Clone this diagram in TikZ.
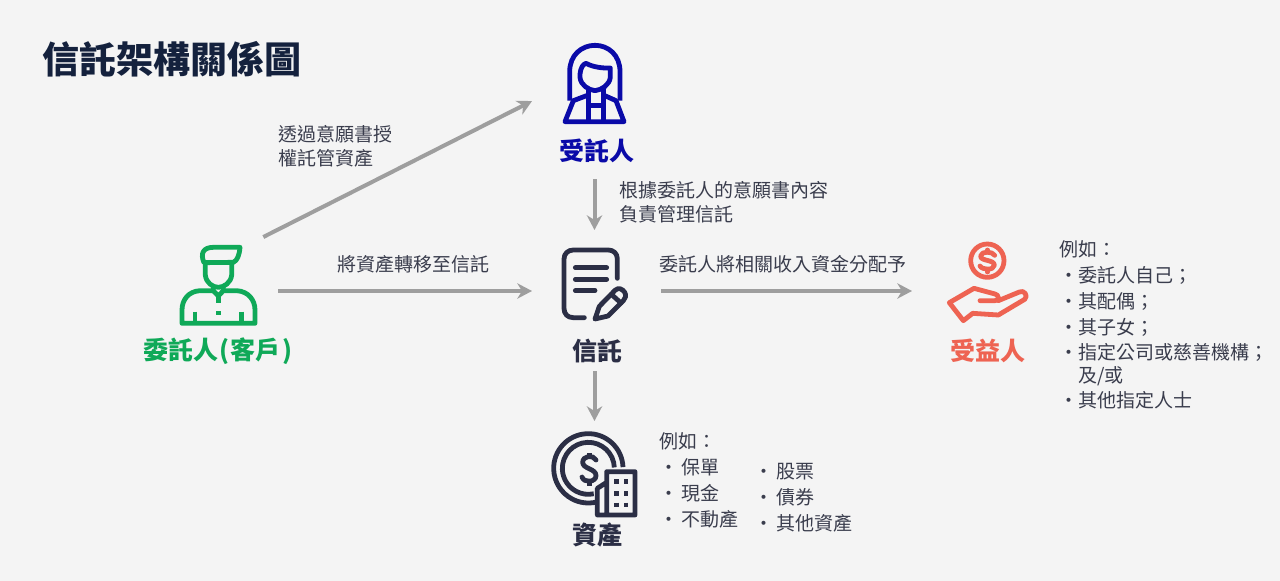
\documentclass[tikz,border=0pt]{standalone}
\usepackage{fontspec}
\setmainfont{Noto Sans CJK TC}
\usepackage{tikz}
\usetikzlibrary{arrows.meta, positioning}
\definecolor{bggrey}{HTML}{F4F4F4}
\definecolor{inkdark}{HTML}{2B2E45}
\definecolor{titleink}{HTML}{14213D}
\definecolor{noteink}{HTML}{3A3D4D}
\definecolor{clientgreen}{HTML}{0FA958}
\definecolor{trusteeblue}{HTML}{0A0AA8}
\definecolor{benefitred}{HTML}{EE6352}
\definecolor{arrowgrey}{HTML}{9E9E9E}

\begin{document}
\begin{tikzpicture}
[
x=.75pt, y=-.75pt,
iconbox/.style={minimum width=#1*.75pt, inner sep=0pt, outer sep=0pt},
role/.style={font=\fontsize{18.75}{22}\selectfont\bfseries, inner sep=0pt, outer sep=0pt},
note/.style={font=\fontsize{14.25}{18}\selectfont, text=noteink, align=left, inner sep=0pt, outer sep=0pt, anchor=north west},
listnote/.style={note, font=\fontsize{14.25}{19.3}\selectfont},
flow/.style={draw=arrowgrey, line width=3pt, -{Stealth[length=11pt,width=11.5pt,inset=3.5pt]}},
iconline/.style={line width=3.6pt, line join=round}
]
    \useasboundingbox[fill=bggrey] (0,0) rectangle (1280,581);

    \node[font=\fontsize{27.8}{32}\selectfont\bfseries, text=titleink, inner sep=0pt] (title) at (172,59) {信託架構關係圖};

    \node[iconbox=120, minimum height=81pt] (client) at (218,291) {};
    \node[iconbox=126, minimum height=58.5pt] (trustee) at (595,83) {};
    \node[iconbox=129, minimum height=91.5pt] (trust) at (596.5,291) {};
    \node[iconbox=150, minimum height=75pt] (benefit) at (987,291) {};
    \node[iconbox=100, minimum height=60pt] (assets) at (594.5,461) {};

    \node[role, text=clientgreen] (clientname) at (218,351) {委託人\kern1pt(\kern1pt客戶\kern1.5pt)};
    \node[role, text=trusteeblue, minimum height=42pt] (trusteename) at (597,151) {受託人};
    \node[role, text=inkdark, minimum height=30pt] (trustname) at (597,351) {信託};
    \node[role, text=benefitred] (benefitname) at (988,351) {受益人};
    \node[role, text=inkdark] (assetsname) at (597,535) {資產};

    \draw[flow] (client.50.8) -- (trustee.196.8);
    \draw[flow] (client.east) -- (trust.west);
    \draw[flow] (trust.east) -- (benefit.west);
    \draw[flow] (trusteename.south -| assets.north) -- (trust.north -| assets.north);
    \draw[flow] (trustname.south -| assets.north) -- (assets.north);

    \node[note] (toptext) at (278,125.5) {透過意願書授\\權託管資產};
    \node[note] (movetext) at (337,255) {將資產轉移至信託};
    \node[note] (managetext) at (619,181) {根據委託人的意願書內容\\負責管理信託};
    \node[note] (paytext) at (659,255) {委託人將相關收入資金分配予};
    \node[listnote] (benefitlist) at (1059.5,241) {例如：\\・委託人自己；\\・其配偶；\\・其子女；\\・指定公司或慈善機構；\\[-2.5pt]\hspace*{1em}及/或\\・其他指定人士};
    \node[note] (assetsintro) at (659,433) {例如：};
    \node[listnote, font=\fontsize{14.25}{19.5}\selectfont] (assetsleft) at (659,459) {・\,保單\\・\,現金\\・\,不動產};
    \node[listnote, font=\fontsize{14.25}{19.5}\selectfont] (assetsright) at (754,463) {・\,股票\\・\,債券\\・\,其他資產};

    % client
    \begin{scope}[shift={(150,230)}, scale=1/3, iconline, draw=clientgreen]
    \draw (162,98) .. controls (150,70) and (160,52) .. (190,52) -- (270,52) .. controls (268,75) and (262,92) .. (250,97) -- cycle;
    \draw (166,98) -- (166,135) .. controls (168,158) and (188,172) .. (205,172) .. controls (222,172) and (243,158) .. (245,135) -- (245,97);
    \draw (190,166) -- (190,182) -- (205,198) -- (220,182) -- (220,166);
    \draw (190,182) -- (150,182) .. controls (115,184) and (96,210) .. (96,240) -- (96,280) -- (315,280) -- (315,240) .. controls (315,210) and (295,184) .. (260,182) -- (220,182);
    \draw (135,245) -- (135,280);
    \draw (275,245) -- (275,280);
    \draw (205,198) -- (205,218);
    \draw (205,244) -- (205,256);
    \end{scope}

    % trustee
    \begin{scope}[shift={(540,30)}, scale=1/3, iconline, draw=trusteeblue]
    \draw (89,212) -- (89,125) .. controls (89,75) and (125,46) .. (165,46) .. controls (205,46) and (240,75) .. (240,125) -- (240,212);
    \draw (120,132) .. controls (122,112) and (130,102) .. (138,100) .. controls (160,112) and (190,115) .. (211,114) -- (211,142) .. controls (208,165) and (185,180) .. (165,182) .. controls (145,180) and (122,165) .. (120,142) -- cycle;
    \draw (145,176) -- (145,275);
    \draw (190,176) -- (190,275);
    \draw (145,195) -- (100,212) -- (75,275) -- (252,275) -- (228,212) -- (190,195);
    \draw (145,226) -- (190,226);
    \end{scope}

    % trust
    \begin{scope}[shift={(540,235)}, scale=1/3, iconline, draw=inkdark, line cap=round]
    \draw (133,248) -- (100,248) .. controls (82,248) and (72,236) .. (72,220) -- (72,72) .. controls (72,56) and (84,45) .. (100,45) -- (205,45) .. controls (221,45) and (232,56) .. (232,72) -- (232,130);
    \draw (106,98) -- (200,98);
    \draw (106,133) -- (200,133);
    \draw (106,167) -- (165,167);
    \draw (165,252) -- (178,214) -- (225,166) .. controls (235,156) and (248,162) .. (254,172) .. controls (260,182) and (256,190) .. (250,197) -- (204,243) -- cycle;
    \draw (214,178) -- (243,204);
    \end{scope}

    % benefit
    \begin{scope}[shift={(930,230)}, scale=1/3, iconline, draw=benefitred, line cap=round]
    \draw (172,92) circle[radius=50];
    \draw (194,76) .. controls (188,64) and (154,62) .. (152,78) .. controls (150,94) and (194,88) .. (193,106) .. controls (191,122) and (156,120) .. (150,108);
    \draw (172,60) -- (172,66);
    \draw (172,120) -- (172,126);
    \draw (150,212) -- (195,212) .. controls (208,212) and (208,194) .. (195,192) -- (132,175) -- (58,218) -- (100,272) -- (128,250) -- (205,255) -- (284,208) .. controls (296,198) and (282,178) .. (268,186) -- (205,212);
    \end{scope}

    % assets
    \begin{scope}[shift={(540,425)}, scale=1/3, iconline, draw=inkdark]
    \draw (145,130) ++(-2:104) arc[start angle=-2, end angle=-284, radius=104];
    \draw (145,130) ++(-2:78) arc[start angle=-2, end angle=-282, radius=78];
    \draw[line cap=round] (168,105) .. controls (160,88) and (128,92) .. (128,112) .. controls (128,132) and (168,130) .. (168,152) .. controls (168,172) and (132,175) .. (126,156);
    \draw (148,84) -- (148,94);
    \draw (148,170) -- (148,182);
    \draw (200,190) -- (200,140) -- (285,140) -- (285,270) -- (172,270) -- (172,190) -- (200,172) -- (200,270);
    \foreach \wx in {230,258} \foreach \wy in {170,205,240}
        \draw (\wx,\wy-7) -- (\wx,\wy+7);
    \end{scope}
\end{tikzpicture}
\end{document}
